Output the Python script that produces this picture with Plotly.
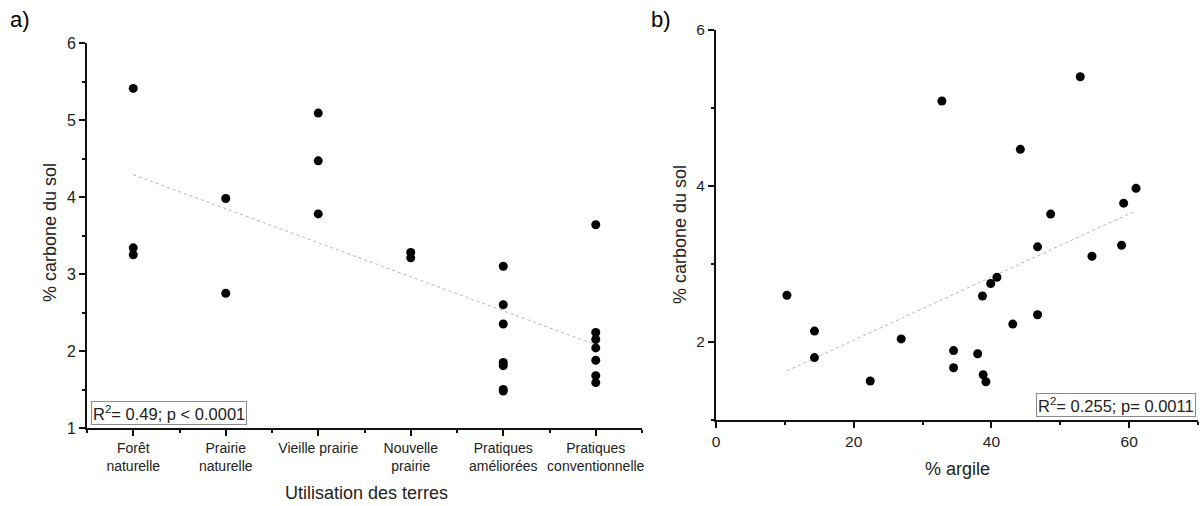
import plotly.graph_objects as go

# ---- Panel a) data ----
categories = ["Forêt<br>naturelle", "Prairie<br>naturelle", "Vieille prairie",
              "Nouvelle<br>prairie", "Pratiques<br>améliorées", "Pratiques<br>conventionnelle"]
a_cat_index = [0, 0, 0,
               1, 1,
               2, 2, 2,
               3, 3,
               4, 4, 4, 4, 4, 4, 4,
               5, 5, 5, 5, 5, 5, 5]
a_carbon = [5.41, 3.34, 3.25,
            3.98, 2.75,
            5.09, 4.47, 3.78,
            3.28, 3.21,
            3.10, 2.60, 2.35, 1.85, 1.81, 1.50, 1.48,
            3.64, 2.24, 2.15, 2.04, 1.88, 1.68, 1.59]
a_trend_x = [0, 5]
a_trend_y = [4.29, 2.08]

# ---- Panel b) data ----
b_argile = [10.3, 14.3, 14.3, 22.4, 26.9, 34.5, 34.5, 38.0, 38.8, 39.2, 38.7, 39.9,
            40.8, 43.1, 46.7, 54.6, 46.7, 32.8, 52.9, 44.2, 48.6, 61.0, 59.2, 58.9]
b_carbon = [2.60, 2.14, 1.80, 1.50, 2.04, 1.89, 1.67, 1.85, 1.58, 1.49, 2.59, 2.75,
            2.83, 2.23, 2.35, 3.10, 3.22, 5.09, 5.40, 4.47, 3.64, 3.97, 3.78, 3.24]
b_trend_x = [10.3, 60.9]
b_trend_y = [1.63, 3.68]

FONT = "Liberation Sans, Arial, sans-serif"
W, H = 1204, 506

fig = go.Figure()
marker = dict(color="black", size=9)
trend = dict(color="#b4b4b4", width=1, dash="dot")

fig.add_trace(go.Scatter(x=a_trend_x, y=a_trend_y, mode="lines", line=trend,
                         xaxis="x", yaxis="y", showlegend=False, hoverinfo="skip"))
fig.add_trace(go.Scatter(x=a_cat_index, y=a_carbon, mode="markers", marker=marker,
                         xaxis="x", yaxis="y", showlegend=False))
fig.add_trace(go.Scatter(x=b_trend_x, y=b_trend_y, mode="lines", line=trend,
                         xaxis="x2", yaxis="y2", showlegend=False, hoverinfo="skip"))
fig.add_trace(go.Scatter(x=b_argile, y=b_carbon, mode="markers", marker=marker,
                         xaxis="x2", yaxis="y2", showlegend=False))


def axis_common(size):
    return dict(showline=True, linecolor="#111", linewidth=2, showgrid=False,
                zeroline=False, ticks="outside", ticklen=6, tickwidth=1.5,
                tickcolor="#111", automargin=False,
                tickfont=dict(family=FONT, size=size, color="#222"))


def minor(vals):
    return dict(tickvals=vals, ticklen=3, tickwidth=1.5, tickcolor="#111", ticks="outside")


def px_x(p):
    return p / W


def px_y(p):
    return 1 - p / H


fig.update_layout(
    width=W, height=H,
    margin=dict(l=0, r=0, t=0, b=0, autoexpand=False),
    paper_bgcolor="white", plot_bgcolor="white",
    xaxis=dict(**axis_common(14), domain=[px_x(87), px_x(642)], range=[-0.5, 5.5],
               tickmode="array", tickvals=list(range(len(categories))), ticktext=categories,
               anchor="y", minor=minor([-0.5, 0.5, 1.5, 2.5, 3.5, 4.5, 5.5])),
    yaxis=dict(**axis_common(16), domain=[px_y(428), px_y(43)], range=[1, 6],
               tickmode="array", tickvals=[1, 2, 3, 4, 5, 6], anchor="x",
               minor=minor([1.5, 2.5, 3.5, 4.5, 5.5])),
    xaxis2=dict(**axis_common(15.5), domain=[px_x(716), px_x(1198)], range=[0, 70],
                tickmode="array", tickvals=[0, 20, 40, 60], anchor="y2",
                minor=minor([10, 30, 50, 70])),
    yaxis2=dict(**axis_common(15.5), domain=[px_y(420), px_y(30)], range=[1, 6],
                tickmode="array", tickvals=[2, 4, 6], anchor="x2",
                minor=minor([1, 3, 5])),
)

annotations = [
    dict(text="a)", x=px_x(20), y=px_y(20), font=dict(family=FONT, size=22, color="black")),
    dict(text="b)", x=px_x(661), y=px_y(20), font=dict(family=FONT, size=22, color="black")),
    dict(text="% carbone du sol", x=px_x(50), y=px_y(233), textangle=-90,
         font=dict(family=FONT, size=18, color="#222")),
    dict(text="% carbone du sol", x=px_x(680), y=px_y(235), textangle=-90,
         font=dict(family=FONT, size=18, color="#222")),
    dict(text="Utilisation des terres", x=px_x(366), y=px_y(493),
         font=dict(family=FONT, size=18, color="#222")),
    dict(text="% argile", x=px_x(957), y=px_y(469),
         font=dict(family=FONT, size=18, color="#222")),
]
for a in annotations:
    a.update(xref="paper", yref="paper", showarrow=False, xanchor="center", yanchor="middle")
    fig.add_annotation(**a)

box_font = dict(family=FONT, size=16.5, color="#222")
fig.add_annotation(text="R<sup>2</sup>= 0.49; p < 0.0001", xref="paper", yref="paper",
                   x=px_x(91), y=px_y(425), xanchor="left", yanchor="bottom",
                   showarrow=False, font=box_font, bordercolor="#8a8a8a", borderwidth=1,
                   borderpad=1, bgcolor="white")
fig.add_annotation(text="R<sup>2</sup>= 0.255; p= 0.0011", xref="paper", yref="paper",
                   x=px_x(1196), y=px_y(417), xanchor="right", yanchor="bottom",
                   showarrow=False, font=box_font, bordercolor="#8a8a8a", borderwidth=1,
                   borderpad=1, bgcolor="white")

fig.write_html("out.html", config={"displayModeBar": False},
               post_script="document.body.style.margin='0';document.body.style.overflow='hidden';")
